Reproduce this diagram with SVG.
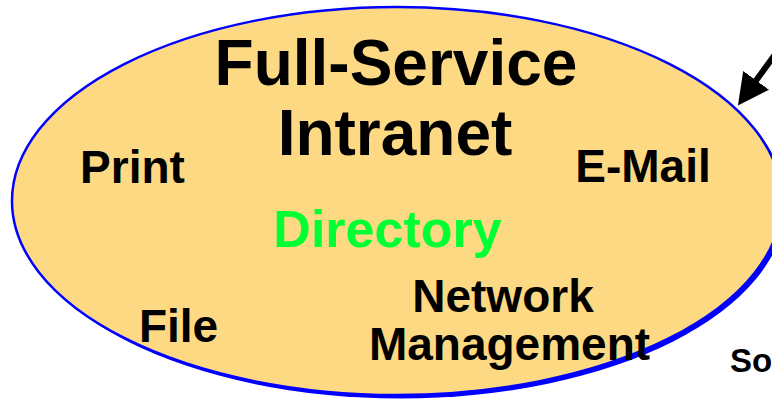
<svg xmlns="http://www.w3.org/2000/svg" width="772" height="403" viewBox="0 0 772 403">
<style>
.lbl{font-family:"Liberation Sans",Arial,sans-serif;font-weight:bold;fill:#000;text-anchor:middle}
.big{font-size:64px}
.mid{font-size:46px}
.dir{font-size:52px;fill:#00FF33}
.conn{stroke:#000;stroke-width:6;fill:none}
</style>
<defs>
<marker id="ah" viewBox="0 0 31 32" refX="2" refY="16" markerWidth="31" markerHeight="32" markerUnits="userSpaceOnUse" orient="auto">
<path d="M0,0 L31,16 L0,32 z" fill="#000"/>
</marker>
</defs>
<rect width="772" height="403" fill="#fff"/>
<g id="intranet">
<ellipse cx="400.5" cy="204.5" rx="385" ry="194" fill="#0000FF"/>
<ellipse cx="397" cy="201" rx="385" ry="194" fill="#FDD983" stroke="#0000FF" stroke-width="2.5"/>
<text class="lbl big" x="396" y="85">Full-Service</text>
<text class="lbl big" x="395" y="155">Intranet</text>
</g>
<g id="print"><text class="lbl mid" x="132.5" y="183">Print</text></g>
<g id="email"><text class="lbl mid" x="643" y="182">E-Mail</text></g>
<g id="directory"><text class="lbl dir" x="387.5" y="247">Directory</text></g>
<g id="file"><text class="lbl mid" x="178.5" y="342">File</text></g>
<g id="netmgmt">
<text class="lbl mid" x="503" y="312">Network</text>
<text class="lbl mid" x="509.5" y="360">Management</text>
</g>
<g id="so"><text class="lbl" style="font-size:33px;text-anchor:start" x="730" y="372">So</text></g>
<g id="connectors">
<path class="conn" d="M790,34 L755,82" marker-end="url(#ah)"/>
</g>
</svg>
